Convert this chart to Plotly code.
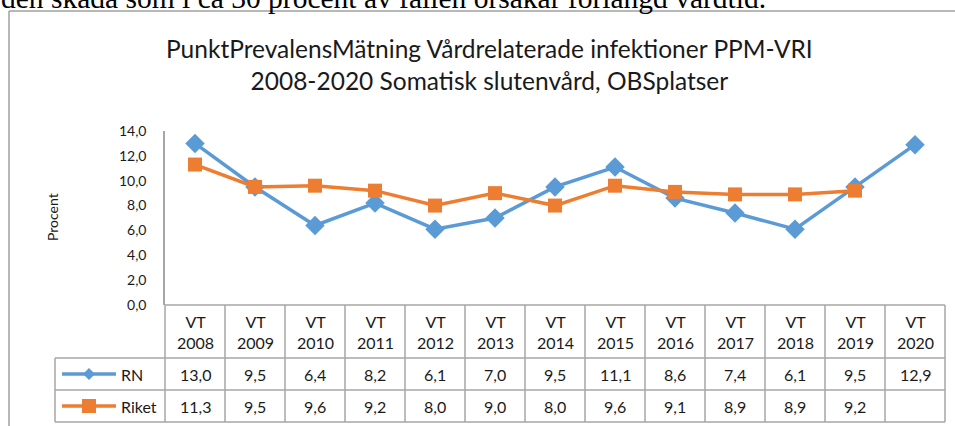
import plotly.graph_objects as go

years = ["2008", "2009", "2010", "2011", "2012", "2013", "2014",
         "2015", "2016", "2017", "2018", "2019", "2020"]
categories = ["VT " + y for y in years]
rn = [13.0, 9.5, 6.4, 8.2, 6.1, 7.0, 9.5, 11.1, 8.6, 7.4, 6.1, 9.5, 12.9]
riket = [11.3, 9.5, 9.6, 9.2, 8.0, 9.0, 8.0, 9.6, 9.1, 8.9, 8.9, 9.2, None]
series_names = ["RN", "Riket"]
y_ticks = [0, 2, 4, 6, 8, 10, 12, 14]

BLUE = "#5B9BD5"
ORANGE = "#ED7D31"
GRID = "#A6A6A6"
FONT = "Lato"

W, H = 955, 426
PL, PR, PT, PB = 165, 945, 131, 305


def px_x(x):
    return (x - PL) / (PR - PL)


def px_y(y):
    return (PB - y) / (PB - PT)


xs = list(range(len(categories)))

fig = go.Figure()
fig.add_trace(go.Scatter(
    x=xs, y=rn, mode="lines+markers", name=series_names[0],
    line=dict(color=BLUE, width=3.5),
    marker=dict(symbol="diamond", size=15, color=BLUE),
    cliponaxis=False,
))
fig.add_trace(go.Scatter(
    x=xs, y=riket, mode="lines+markers", name=series_names[1],
    line=dict(color=ORANGE, width=3.5),
    marker=dict(symbol="square", size=14, color=ORANGE),
    cliponaxis=False, connectgaps=False,
))

shapes = []
annotations = []


def line(x0, y0, x1, y1, color=GRID, width=1.5):
    shapes.append(dict(type="line", xref="paper", yref="paper",
                       x0=px_x(x0), y0=px_y(y0), x1=px_x(x1), y1=px_y(y1),
                       line=dict(color=color, width=width)))


# outer chart border
line(9, 11, 960, 11, color="#A0A0A0")
line(9, 11, 9, 430, color="#A0A0A0")

# table grid
col_w = (PR - PL) / len(categories)
ROW1 = 358
ROW2 = 390
ROW3 = 422
LEG_L = 55
line(PL, PB, PR, PB)
for yy in (ROW1, ROW2, ROW3):
    line(LEG_L, yy, PR, yy)
line(LEG_L, ROW1, LEG_L, ROW3)
for i in range(len(categories) + 1):
    xx = PL + i * col_w
    line(xx, PB, xx, ROW3)

TXT = "#1a1a1a"


def fmt(v):
    return "" if v is None else f"{v:.1f}".replace(".", ",")


for i, cat in enumerate(categories):
    cx = px_x(PL + (i + 0.5) * col_w)
    annotations.append(dict(xref="paper", yref="paper", x=cx, y=px_y((PB + ROW1) / 2),
                            text=cat.replace(" ", "<br>"), showarrow=False,
                            font=dict(family=FONT, size=16, color=TXT),
                            xanchor="center", yanchor="middle"))
    for vals, r0, r1 in ((rn, ROW1, ROW2), (riket, ROW2, ROW3)):
        annotations.append(dict(xref="paper", yref="paper", x=cx, y=px_y((r0 + r1) / 2),
                                text=fmt(vals[i]), showarrow=False,
                                font=dict(family=FONT, size=16, color=TXT),
                                xanchor="center", yanchor="middle"))

# legend keys in table
for name, color, sym, r0, r1 in ((series_names[0], BLUE, "diamond", ROW1, ROW2),
                                 (series_names[1], ORANGE, "square", ROW2, ROW3)):
    cy = (r0 + r1) / 2
    line(62, cy, 116, cy, color=color, width=3.5)
    mx = 89
    if sym == "diamond":
        d = 6
        shapes.append(dict(type="path", xref="paper", yref="paper",
                           path=f"M {px_x(mx - d)} {px_y(cy)} L {px_x(mx)} {px_y(cy - d)} "
                                f"L {px_x(mx + d)} {px_y(cy)} L {px_x(mx)} {px_y(cy + d)} Z",
                           fillcolor=color, line=dict(width=0)))
    else:
        d = 7
        shapes.append(dict(type="rect", xref="paper", yref="paper",
                           x0=px_x(mx - d), x1=px_x(mx + d), y0=px_y(cy - d), y1=px_y(cy + d),
                           fillcolor=color, line=dict(width=0)))
    annotations.append(dict(xref="paper", yref="paper", x=px_x(119), y=px_y(cy),
                            text=name, showarrow=False,
                            font=dict(family=FONT, size=16, color=TXT),
                            xanchor="left", yanchor="middle"))

# title
annotations.append(dict(xref="paper", yref="paper", x=px_x(489), y=px_y(64),
                        text="PunktPrevalensMätning Vårdrelaterade infektioner PPM-VRI<br>"
                             "2008-2020 Somatisk slutenvård, OBSplatser",
                        showarrow=False, font=dict(family=FONT, size=24.5, color=TXT),
                        xanchor="center", yanchor="middle"))

# y axis title
annotations.append(dict(xref="paper", yref="paper", x=px_x(52), y=px_y(217),
                        text="Procent", textangle=-90, showarrow=False,
                        font=dict(family=FONT, size=14, color=TXT),
                        xanchor="center", yanchor="middle"))

# document text above the chart (cut off at top)
annotations.append(dict(xref="paper", yref="paper", x=px_x(-1), y=px_y(-2),
                        text="den skada som i ca 30 procent av fallen orsakar förlängd vårdtid.",
                        showarrow=False,
                        font=dict(family="Liberation Serif", size=29.5, color="#000000"),
                        xanchor="left", yanchor="middle"))

fig.update_layout(
    width=W, height=H,
    margin=dict(l=PL, r=W - PR, t=PT, b=H - PB, pad=0),
    paper_bgcolor="white", plot_bgcolor="white",
    showlegend=False,
    separators=", ",
    shapes=shapes,
    annotations=annotations,
    xaxis=dict(range=[-0.5, len(categories) - 0.5], showticklabels=False,
               showgrid=False, zeroline=False, showline=False, ticks=""),
    yaxis=dict(range=[0, 14], tickvals=y_ticks, tickformat=".1f",
               showgrid=False, zeroline=False, showline=True,
               linecolor=GRID, linewidth=1.5, ticks="", ticklen=0,
               ticklabelstandoff=14,
               tickfont=dict(family=FONT, size=14, color=TXT)),
)

fig.write_html("out.html", config={"displayModeBar": False},
               post_script="document.body.style.margin='0px';")
